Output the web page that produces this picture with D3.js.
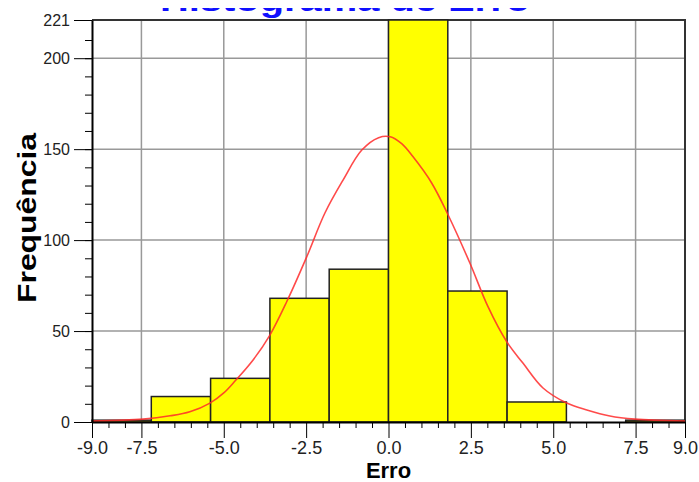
<!DOCTYPE html>
<html>
<head>
<meta charset="utf-8">
<script src="https://cdn.jsdelivr.net/npm/d3@7"></script>
<style>
  body { margin: 0; background: #fff; }
  svg { display: block; font-family: "Liberation Sans", Arial, sans-serif; }
  .axis path, .axis line { stroke: #000; }
  .axis text { fill: #222; }
</style>
</head>
<body>
<svg id="chart" width="699" height="482"></svg>
<script>
// histogram bins (edges) and counts
const binEdges = [-9, -7.2, -5.4, -3.6, -1.8, 0, 1.8, 3.6, 5.4, 7.2, 9];
const counts = [1, 14, 24, 68, 84, 221, 72, 11, 0, 1];

// fitted curve, points
const curveX = [-9, -7.45, -6.63, -6.03, -5.42, -5.0, -4.66, -4.11, -3.6, -3.09, -2.48, -1.93, -1.38, -0.81, -0.3, 0.05,
  0.4, 0.74, 1.31, 1.81, 2.47, 3.02, 3.59, 4.08, 4.69, 5.41, 6.02, 6.72, 7.48, 9];
const curveY = [0.5, 1.6, 3.4, 5.6, 10.4, 16, 22.5, 34.1, 47.8, 66.1, 90.9, 114.9, 133, 149.5, 156.3, 156.8,
  153, 145.9, 131.4, 113.8, 87.4, 63.4, 44.1, 32.4, 18.7, 10.4, 6.6, 3.3, 1.6, 0.5];

const xTicks = [-9, -7.5, -5, -2.5, 0, 2.5, 5, 7.5, 9];
const yTicks = [0, 50, 100, 150, 200, 221];
const gridX = [-7.5, -5, -2.5, 0, 2.5, 5, 7.5];
const gridY = [50, 100, 150, 200];

const MARGIN = { left: 92, right: 14, top: 20, bottom: 60 };
const WIDTH = 699, HEIGHT = 482;

const svg = d3.select("#chart");

const x = d3.scaleLinear().domain([-9, 9]).range([MARGIN.left, WIDTH - MARGIN.right]);
const y = d3.scaleLinear().domain([0, 221]).range([HEIGHT - MARGIN.bottom, MARGIN.top]);

// title: only its lower edge shows in the picture
svg.append("clipPath").attr("id", "title-clip")
  .append("rect").attr("x", 0).attr("y", 8).attr("width", WIDTH).attr("height", 12);

svg.append("text")
  .attr("clip-path", "url(#title-clip)")
  .attr("x", 345).attr("y", 11)
  .attr("text-anchor", "middle")
  .attr("textLength", 370).attr("lengthAdjust", "spacingAndGlyphs")
  .style("font-size", "32px").style("font-weight", "bold")
  .style("fill", "#1010ff")
  .text("Histograma de Erro");

// grid
svg.append("g").selectAll("line").data(gridX).join("line")
  .attr("x1", d => x(d)).attr("x2", d => x(d))
  .attr("y1", y(221)).attr("y2", y(0))
  .attr("stroke", "#999").attr("stroke-width", 1.5);
svg.append("g").selectAll("line").data(gridY).join("line")
  .attr("x1", x(-9)).attr("x2", x(9))
  .attr("y1", d => y(d)).attr("y2", d => y(d))
  .attr("stroke", "#999").attr("stroke-width", 1.5);

// frame top / right
svg.append("path")
  .attr("d", `M${x(-9)},${y(221)}H${x(9)}V${y(0)}`)
  .attr("fill", "none").attr("stroke", "#333").attr("stroke-width", 2);

// bars
svg.append("g").selectAll("rect").data(counts).join("rect")
  .attr("x", (d, i) => x(binEdges[i]))
  .attr("width", (d, i) => x(binEdges[i + 1]) - x(binEdges[i]))
  .attr("y", d => y(d))
  .attr("height", d => y(0) - y(d))
  .attr("fill", "#ffff00")
  .attr("stroke", "#222").attr("stroke-width", 1.5)
  .style("display", d => d > 0 ? null : "none");

// curve
const line = d3.line().x(d => x(d[0])).y(d => y(d[1])).curve(d3.curveCatmullRom);
svg.append("path")
  .datum(curveX.map((v, i) => [v, curveY[i]]))
  .attr("d", line)
  .attr("fill", "none")
  .attr("stroke", "#ff2a2a").attr("stroke-opacity", 0.85)
  .attr("stroke-width", 1.6);

// y axis
const yAxis = svg.append("g").attr("class", "axis")
  .attr("transform", `translate(${MARGIN.left},0)`);
yAxis.append("g")
  .call(d3.axisLeft(y).tickValues(d3.range(10, 220, 10)).tickSize(7).tickFormat(""))
  .call(g => g.select(".domain").remove());
yAxis.append("g")
  .call(d3.axisLeft(y).tickValues(yTicks).tickSize(18).tickSizeOuter(0).tickPadding(4).tickFormat(d3.format("d")))
  .call(g => g.selectAll("text").style("font-size", "16px"))
  .call(g => g.select(".domain").attr("stroke-width", 2));

// x axis
const xAxis = svg.append("g").attr("class", "axis")
  .attr("transform", `translate(0,${HEIGHT - MARGIN.bottom})`);
xAxis.append("g")
  .call(d3.axisBottom(x).tickValues(d3.range(-8.5, 9, 0.5).filter(v => !xTicks.includes(v))).tickSize(6).tickFormat(""))
  .call(g => g.select(".domain").remove());
xAxis.append("g")
  .call(d3.axisBottom(x).tickValues(xTicks).tickSize(16).tickSizeOuter(0).tickPadding(3).tickFormat(d => d.toFixed(1)))
  .call(g => g.selectAll("text").style("font-size", "18px"))
  .call(g => g.select(".domain").attr("stroke-width", 2));

// axis titles
svg.append("text")
  .attr("x", x(0)).attr("y", 478)
  .attr("text-anchor", "middle")
  .style("font-size", "22px").style("font-weight", "bold").style("fill", "#000")
  .text("Erro");

svg.append("text")
  .attr("transform", "translate(36,218) rotate(-90)")
  .attr("text-anchor", "middle")
  .attr("textLength", 170).attr("lengthAdjust", "spacingAndGlyphs")
  .style("font-size", "26px").style("font-weight", "bold").style("fill", "#000")
  .text("Frequência");
</script>
</body>
</html>
